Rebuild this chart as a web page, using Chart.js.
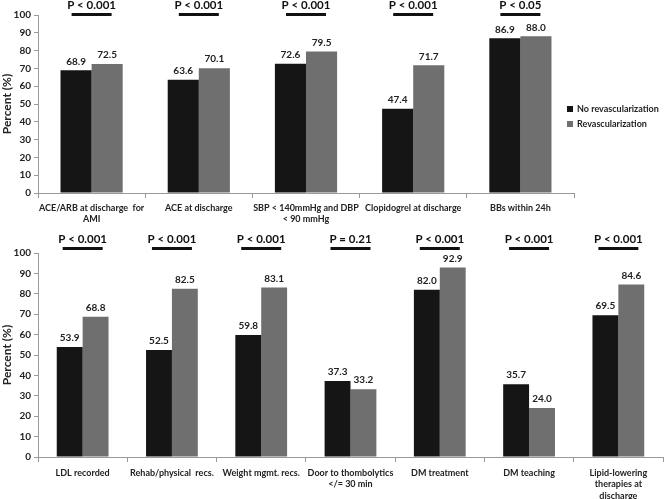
<!DOCTYPE html>
<html>
<head>
<meta charset="utf-8">
<script src="https://cdn.jsdelivr.net/npm/chart.js@4.4.1/dist/chart.umd.min.js"></script>
<style>
    html, body { margin: 0; padding: 0; background: #fff; }
    #wrap { position: relative; width: 665px; height: 499px; }
    .box { position: absolute; left: 0; width: 665px; }
    #topBox { top: 0; height: 230px; }
    #botBox { top: 230px; height: 269px; }
</style>
</head>
<body>
<div id="wrap">
    <div class="box" id="topBox"><canvas id="topChart"></canvas></div>
    <div class="box" id="botBox"><canvas id="botChart"></canvas></div>
</div>
<script>
    'use strict';

    var seriesNames = ['No revascularization', 'Revascularization'];
    var seriesColors = ['#151515', '#6f6f6f'];
    var yTicks = [0, 10, 20, 30, 40, 50, 60, 70, 80, 90, 100];

    var topCategories = [
        ['ACE/ARB at discharge  for', 'AMI'],
        'ACE at discharge',
        ['SBP < 140mmHg and DBP', '< 90 mmHg'],
        'Clopidogrel at discharge',
        'BBs within 24h'
    ];
    var topNoRevasc = [68.9, 63.6, 72.6, 47.4, 86.9];
    var topRevasc = [72.5, 70.1, 79.5, 71.7, 88.0];
    var topPValues = ['P < 0.001', 'P < 0.001', 'P < 0.001', 'P < 0.001', 'P < 0.05'];

    var botCategories = [
        'LDL recorded',
        'Rehab/physical  recs.',
        'Weight mgmt. recs.',
        ['Door to thombolytics', '</= 30 min'],
        'DM treatment',
        'DM teaching',
        ['Lipid-lowering', 'therapies at', 'discharge']
    ];
    var botNoRevasc = [53.9, 52.5, 59.8, 37.3, 82.0, 35.7, 69.5];
    var botRevasc = [68.8, 82.5, 83.1, 33.2, 92.9, 24.0, 84.6];
    var botPValues = ['P < 0.001', 'P < 0.001', 'P < 0.001', 'P = 0.21', 'P < 0.001', 'P < 0.001', 'P < 0.001'];

    var FONT = 'Lato';
    var TEXT = '#222';

    // value labels above every bar
    var valueLabels = {
        id: 'valueLabels',
        afterDatasetsDraw: function (chart) {
            var ctx = chart.ctx;
            ctx.save();
            ctx.font = 'bold 10px ' + FONT;
            ctx.fillStyle = TEXT;
            ctx.textAlign = 'center';
            ctx.textBaseline = 'bottom';
            chart.data.datasets.forEach(function (ds, di) {
                chart.getDatasetMeta(di).data.forEach(function (bar, i) {
                    ctx.fillText(ds.data[i].toFixed(1), bar.x, bar.y - 4);
                });
            });
            ctx.restore();
        }
    };

    // "P < ..." text with a bar underneath, over each category
    var pValues = {
        id: 'pValues',
        afterDraw: function (chart, args, opts) {
            var ctx = chart.ctx;
            var xs = chart.scales.x;
            var lineY = chart.chartArea.top + opts.lineOffset;
            ctx.save();
            ctx.font = 'bold 11.5px ' + FONT;
            ctx.fillStyle = '#111';
            ctx.textAlign = 'center';
            ctx.textBaseline = 'middle';
            opts.labels.forEach(function (lbl, i) {
                var cx = xs.getPixelForValue(i);
                ctx.fillText(lbl, cx, lineY - 9);
                ctx.fillRect(cx - 20, lineY - 1, 40, 3);
            });
            ctx.restore();
        }
    };

    // small legend at the right of the top chart
    var sideLegend = {
        id: 'sideLegend',
        afterDraw: function (chart, args, opts) {
            if (!opts.show) return;
            var ctx = chart.ctx;
            ctx.save();
            ctx.font = 'bold 9px ' + FONT;
            ctx.textBaseline = 'middle';
            chart.data.datasets.forEach(function (ds, i) {
                var y = 109 + i * 15;
                ctx.fillStyle = ds.backgroundColor;
                ctx.fillRect(567, y - 3, 6, 6);
                ctx.fillStyle = TEXT;
                ctx.fillText(ds.label, 577, y);
            });
            ctx.restore();
        }
    };

    function makeChart(canvasId, labels, noRev, rev, pLabels, cfg) {
        return new Chart(document.getElementById(canvasId), {
            type: 'bar',
            data: {
                labels: labels,
                datasets: [
                    { label: seriesNames[0], data: noRev, backgroundColor: seriesColors[0] },
                    { label: seriesNames[1], data: rev, backgroundColor: seriesColors[1] }
                ]
            },
            options: {
                responsive: true,
                maintainAspectRatio: false,
                animation: false,
                categoryPercentage: 0.58,
                barPercentage: 1.0,
                layout: { padding: { top: cfg.padTop, right: cfg.padRight, left: 0, bottom: 0 } },
                plugins: {
                    legend: { display: false },
                    tooltip: { enabled: false },
                    pValues: { labels: pLabels, lineOffset: cfg.lineOffset },
                    sideLegend: { show: cfg.legend }
                },
                scales: {
                    x: {
                        grid: { drawOnChartArea: false, tickLength: 5, color: '#999' },
                        border: { color: '#999' },
                        ticks: {
                            autoSkip: false, maxRotation: 0, minRotation: 0, padding: cfg.xPad,
                            color: TEXT, font: { family: FONT, size: 9, weight: 'bold', lineHeight: 1.3 }
                        },
                        afterFit: function (scale) { scale.height = cfg.xHeight; }
                    },
                    y: {
                        min: 0,
                        max: 100,
                        afterBuildTicks: function (scale) {
                            scale.ticks = yTicks.map(function (v) { return { value: v }; });
                        },
                        grid: { drawOnChartArea: false, tickLength: 4, color: '#999' },
                        border: { color: '#999' },
                        ticks: { padding: 3, color: TEXT, font: { family: FONT, size: 10, weight: 'bold' } },
                        title: {
                            display: true, text: 'Percent (%)', color: TEXT,
                            padding: { top: 0, bottom: 0 },
                            font: { family: FONT, size: 12, weight: 'bold' }
                        },
                        afterFit: function (scale) { scale.width = 38; }
                    }
                }
            },
            plugins: [valueLabels, pValues, sideLegend]
        });
    }

    makeChart('topChart', topCategories, topNoRevasc, topRevasc, topPValues,
        { padTop: 15, padRight: 91, xHeight: 37, xPad: 4, lineOffset: -1, legend: true });
    makeChart('botChart', botCategories, botNoRevasc, botRevasc, botPValues,
        { padTop: 23, padRight: 2, xHeight: 42, xPad: 5, lineOffset: -5, legend: false });
</script>
</body>
</html>
